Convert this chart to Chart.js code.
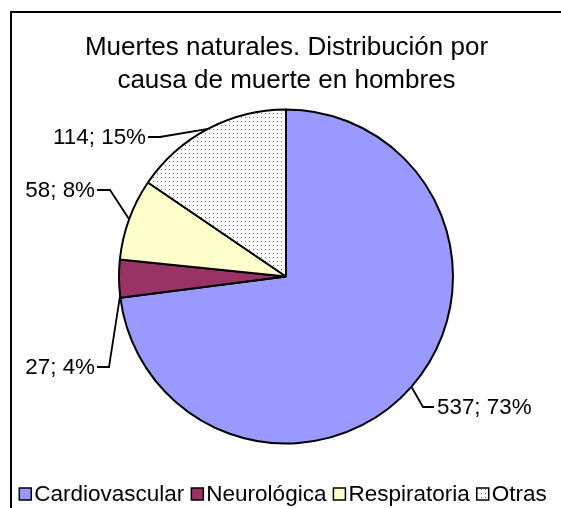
<!DOCTYPE html>
<html>
<head>
<meta charset="utf-8">
<script src="https://cdn.jsdelivr.net/npm/chart.js@4.4.0/dist/chart.umd.min.js"></script>
<style>
html,body{margin:0;padding:0;background:#fff;}
canvas{display:block;}
</style>
</head>
<body>
<canvas id="c" width="561" height="508"></canvas>
<script>
const categories = ['Cardiovascular', 'Neurológica', 'Respiratoria', 'Otras'];
const values = [537, 27, 58, 114];
const titleLines = ['Muertes naturales. Distribución por', 'causa de muerte en hombres'];

const FONT = '"Liberation Sans", Arial, sans-serif';

function dotPattern() {
  const c = document.createElement('canvas');
  c.width = 4; c.height = 4;
  const g = c.getContext('2d');
  g.fillStyle = '#ffffff';
  g.fillRect(0, 0, 4, 4);
  g.fillStyle = '#6e6e6e';
  g.fillRect(1, 1, 1, 1);
  return g.createPattern(c, 'repeat');
}
const fills = ['#9999FF', '#993366', '#FFFFCC', dotPattern()];

// label layout: leader anchor fraction along slice arc, elbow offset from pie center, horizontal run, side
const labelLayout = [
  {frac: 0.5,  elbow: [137, 130.5], run: 11, side: 'right'},
  {frac: 0.06, elbow: [-177, 90.5], run: -12, side: 'left'},
  {frac: 0.5,  elbow: [-176, -86.5], run: -13, side: 'left'},
  {frac: 0.5,  elbow: [-126, -139.5], run: -12, side: 'left'}
];

const total = values.reduce((a, b) => a + b, 0);

const decor = {
  id: 'decor',
  afterDraw(chart) {
    const ctx = chart.ctx;
    ctx.save();
    // frame
    ctx.strokeStyle = '#000';
    ctx.lineWidth = 2;
    ctx.strokeRect(11, 12, 700, 700);

    // title
    ctx.fillStyle = '#000';
    ctx.font = '26px ' + FONT;
    ctx.textAlign = 'center';
    ctx.textBaseline = 'alphabetic';
    ctx.fillText(titleLines[0], 286.5, 55);
    ctx.fillText(titleLines[1], 286.5, 88);

    // data labels with leader lines
    const meta = chart.getDatasetMeta(0);
    ctx.font = '22.4px ' + FONT;
    ctx.textBaseline = 'middle';
    meta.data.forEach((arc, i) => {
      const L = labelLayout[i];
      const a = arc.startAngle + L.frac * (arc.endAngle - arc.startAngle);
      const px = arc.x + arc.outerRadius * Math.cos(a);
      const py = arc.y + arc.outerRadius * Math.sin(a);
      const ex = arc.x + L.elbow[0];
      const ey = arc.y + L.elbow[1];
      const tx = ex + L.run;
      ctx.strokeStyle = '#000';
      ctx.lineWidth = 1.8;
      ctx.beginPath();
      ctx.moveTo(px, py);
      ctx.lineTo(ex, ey);
      ctx.lineTo(tx, ey);
      ctx.stroke();
      const txt = values[i] + '; ' + Math.round(values[i] / total * 100) + '%';
      ctx.fillStyle = '#000';
      if (L.side === 'right') {
        ctx.textAlign = 'left';
        ctx.fillText(txt, tx + 3, ey + 1);
      } else {
        ctx.textAlign = 'right';
        ctx.fillText(txt, tx - 2, ey + 1);
      }
    });

    // legend
    ctx.font = '22.5px ' + FONT;
    ctx.textAlign = 'left';
    ctx.textBaseline = 'middle';
    const box = 12, gapBox = 3, gapItem = 7;
    const widths = categories.map(t => ctx.measureText(t).width);
    let totalW = 0;
    widths.forEach((w, i) => { totalW += box + gapBox + w + (i < widths.length - 1 ? gapItem : 0); });
    let x = 283 - totalW / 2;
    const ly = 494;
    categories.forEach((t, i) => {
      ctx.fillStyle = fills[i];
      ctx.fillRect(x, ly - box / 2, box, box);
      ctx.strokeStyle = '#000';
      ctx.lineWidth = 1.5;
      ctx.strokeRect(x, ly - box / 2, box, box);
      ctx.fillStyle = '#000';
      ctx.fillText(t, x + box + gapBox, ly + 1);
      x += box + gapBox + widths[i] + gapItem;
    });
    ctx.restore();
  }
};

new Chart(document.getElementById('c'), {
  type: 'pie',
  data: {
    labels: categories,
    datasets: [{
      data: values,
      backgroundColor: fills,
      borderColor: '#000000',
      borderWidth: 2,
      radius: 167
    }]
  },
  options: {
    responsive: false,
    animation: false,
    devicePixelRatio: 1,
    layout: {padding: {left: 11, right: 0, top: 109, bottom: 64}},
    plugins: {
      legend: {display: false},
      title: {display: false},
      tooltip: {enabled: false}
    }
  },
  plugins: [decor]
});
</script>
</body>
</html>
